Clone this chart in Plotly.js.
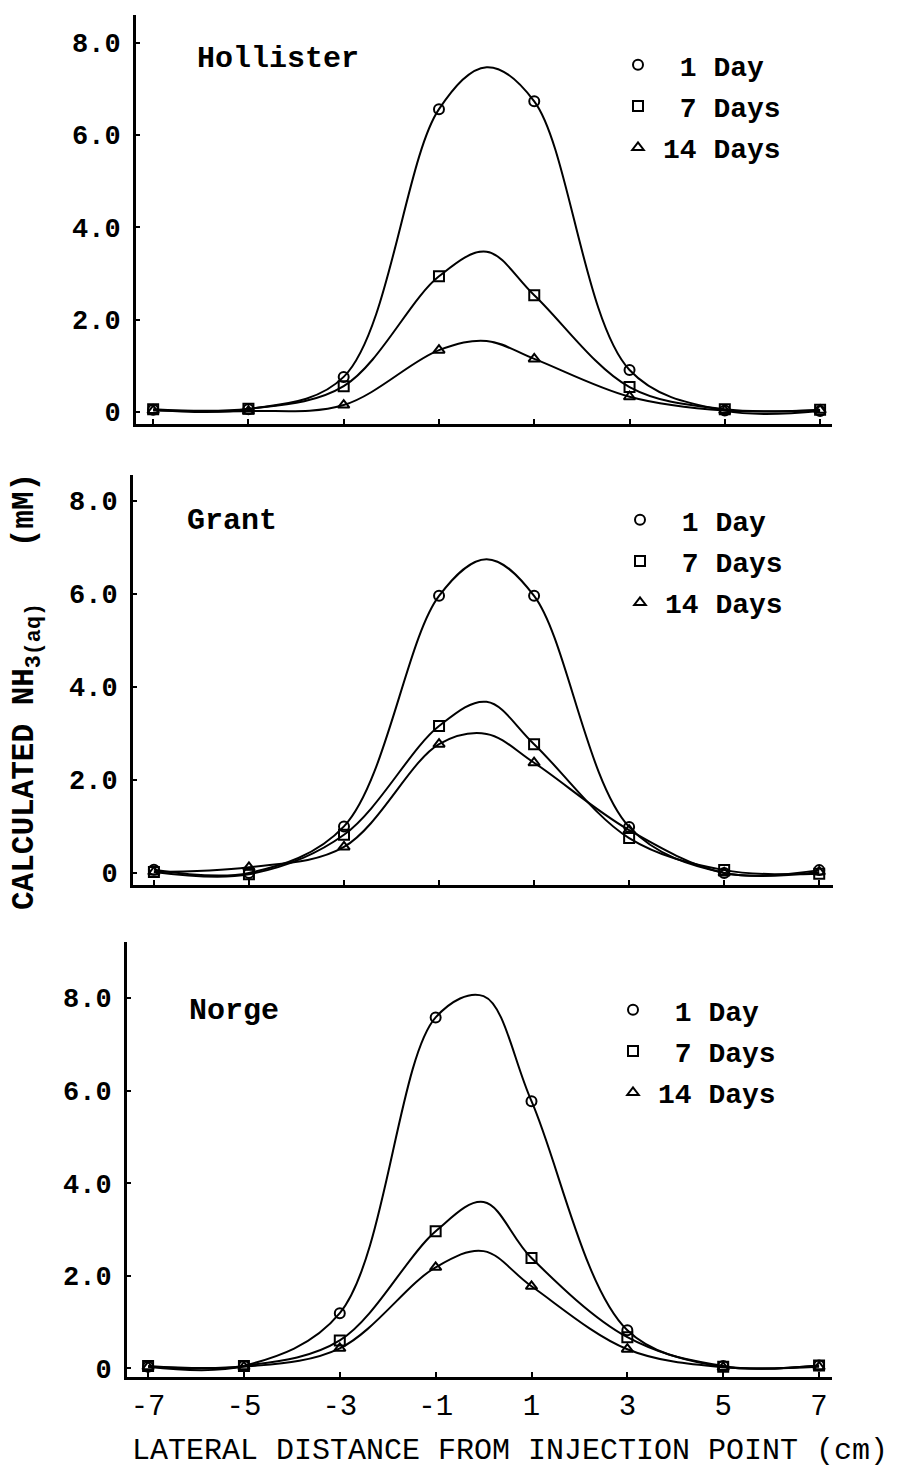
<!DOCTYPE html>
<html>
<head>
<meta charset="utf-8">
<script src="https://cdn.plot.ly/plotly-3.0.1.min.js"></script>
<style>html,body{margin:0;padding:0;background:#fff;}</style>
</head>
<body>
<div id="chart" style="width:902px;height:1475px;"></div>
<script>
// Lateral distance (cm)
const xPos = [-7, -5, -3, -1, 1, 3, 5, 7];
// Curve x positions (fitted line includes the read peak at 0)
const curveX = [-7, -5, -3, -1, 0, 1, 3, 5, 7];

// Hollister
const hol1 = [0.05, 0.06, 0.76, 6.56, 6.73, 0.91, 0.03, 0.02];
const hol7 = [0.06, 0.07, 0.56, 2.94, 2.53, 0.54, 0.06, 0.05];
const hol14 = [0.03, 0.02, 0.15, 1.34, 1.15, 0.33, 0.03, 0.04];
const holPeak = [7.47, 3.47, 1.54];

// Grant
const gra1 = [0.07, 0.00, 1.00, 5.96, 5.96, 0.99, 0.00, 0.06];
const gra7 = [0.02, -0.03, 0.82, 3.16, 2.77, 0.75, 0.06, -0.02];
const gra14 = [0.02, 0.12, 0.56, 2.77, 2.37, 0.92, 0.00, 0.02];
const graPeak = [6.75, 3.68, 2.99];

// Norge
const nor1 = [0.03, 0.05, 1.19, 7.58, 5.77, 0.82, 0.05, 0.06];
const nor7 = [0.05, 0.05, 0.60, 2.96, 2.38, 0.67, 0.03, 0.06];
const nor14 = [0.03, 0.03, 0.43, 2.18, 1.77, 0.41, 0.02, 0.03];
const norPeak = [8.04, 3.59, 2.53];

const seriesNames = ["\u00A01\u00A0Day", "\u00A07\u00A0Days", "14\u00A0Days"];
const soilNames = ["Hollister", "Grant", "Norge"];
const yTickVals = [0, 2, 4, 6, 8];
const yTickText = ["0", "2.0", "4.0", "6.0", "8.0"];
const xTickVals = [-7, -5, -3, -1, 1, 3, 5, 7];
const xTickText = ["-7", "-5", "-3", "-1", "1", "3", "5", "7"];

const symbols = ["circle-open", "square-open", "triangle-up-open"];
const W = 902, H = 1475;

const panels = [
  {data: [hol1, hol7, hol14], peak: holPeak, xr: [-7.36, 7.25], yr: [-0.26, 8.6],
   px: [136, 832], py: [15, 424], title: [195, 59], leg: [613, 40]},
  {data: [gra1, gra7, gra14], peak: graPeak, xr: [-7.44, 7.29], yr: [-0.26, 8.56],
   px: [133, 833], py: [475, 885], title: [185, 521], leg: [615, 495]},
  {data: [nor1, nor7, nor14], peak: norPeak, xr: [-7.44, 7.27], yr: [-0.19, 9.21],
   px: [127, 832], py: [942, 1377], title: [187, 1011], leg: [608, 985]}
];

const monoBold = {family: "Liberation Mono, DejaVu Sans Mono, monospace", color: "#000", weight: "bold"};
const mono = {family: "Liberation Mono, DejaVu Sans Mono, monospace", color: "#000"};

const traces = [];
const layout = {
  width: W, height: H,
  margin: {l: 0, r: 0, t: 0, b: 0},
  paper_bgcolor: "#fff", plot_bgcolor: "rgba(0,0,0,0)",
  showlegend: true,
  annotations: []
};

panels.forEach((p, i) => {
  const n = i + 1;
  const xa = n === 1 ? "x" : "x" + n;
  const ya = n === 1 ? "y" : "y" + n;
  const legName = n === 1 ? "legend" : "legend" + n;
  p.data.forEach((vals, k) => {
    const cy = vals.slice(0, 4).concat([p.peak[k]], vals.slice(4));
    traces.push({
      x: curveX, y: cy, xaxis: xa, yaxis: ya, mode: "lines",
      line: {shape: "spline", smoothing: 1.0, color: "#000", width: 2},
      showlegend: false, hoverinfo: "skip"
    });
    traces.push({
      x: xPos, y: vals, xaxis: xa, yaxis: ya, mode: "markers",
      name: seriesNames[k], legend: legName, legendgroup: "g" + n + k,
      marker: {symbol: symbols[k], size: 10, color: "#000", line: {width: 2, color: "#000"}},
      cliponaxis: false
    });
  });
  const xKey = n === 1 ? "xaxis" : "xaxis" + n;
  const yKey = n === 1 ? "yaxis" : "yaxis" + n;
  layout[xKey] = {
    domain: [p.px[0] / W, p.px[1] / W], range: p.xr, anchor: ya,
    showgrid: false, zeroline: false, showline: true, linecolor: "#000", linewidth: 3,
    ticks: "inside", ticklen: 5, tickwidth: 2, tickcolor: "#000",
    tickvals: xTickVals, ticktext: xTickText,
    showticklabels: n === 3, ticklabelstandoff: 0,
    tickfont: Object.assign({size: 29}, mono), fixedrange: true
  };
  layout[yKey] = {
    domain: [1 - p.py[1] / H, 1 - p.py[0] / H], range: p.yr, anchor: xa,
    showgrid: false, zeroline: false, showline: true, linecolor: "#000", linewidth: 3,
    ticks: "inside", ticklen: 4, tickwidth: 2, tickcolor: "#000",
    tickvals: yTickVals, ticktext: yTickText, ticklabelstandoff: 7,
    tickfont: Object.assign({size: 27}, monoBold), fixedrange: true
  };
  layout[legName] = {
    x: p.leg[0] / W, y: 1 - p.leg[1] / H, xanchor: "left", yanchor: "top",
    bgcolor: "rgba(0,0,0,0)", borderwidth: 0, traceorder: "grouped", tracegroupgap: 2,
    itemwidth: 40,
    font: Object.assign({size: 28}, monoBold)
  };
  layout.annotations.push({
    xref: "paper", yref: "paper", x: p.title[0] / W, y: 1 - p.title[1] / H,
    xanchor: "left", yanchor: "middle", showarrow: false, text: soilNames[i],
    font: Object.assign({size: 30}, monoBold)
  });
});

layout.annotations.push({
  xref: "paper", yref: "paper", x: 27 / W, y: 1 - 692 / H, xanchor: "center", yanchor: "middle",
  showarrow: false, textangle: -90,
  text: "CALCULATED NH<sub>3(aq)</sub>\u00A0\u00A0\u00A0(mM)",
  font: Object.assign({size: 31}, monoBold)
});
layout.annotations.push({
  xref: "paper", yref: "paper", x: 510 / W, y: 1 - 1451 / H, xanchor: "center", yanchor: "middle",
  showarrow: false, text: "LATERAL DISTANCE FROM INJECTION POINT (cm)",
  font: Object.assign({size: 30}, mono)
});

Plotly.newPlot("chart", traces, layout, {staticPlot: true, displayModeBar: false});
</script>
</body>
</html>
